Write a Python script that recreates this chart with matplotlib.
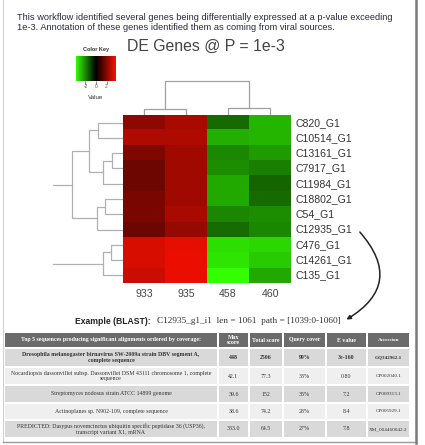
import numpy as np
import matplotlib
matplotlib.use("Agg")
import matplotlib.pyplot as plt
from matplotlib.colors import LinearSegmentedColormap
from matplotlib.patches import Rectangle, FancyArrowPatch
from matplotlib.lines import Line2D

# ---------------- data ----------------
samples = ["933", "935", "458", "460"]
genes = ["C820_G1", "C10514_G1", "C13161_G1", "C7917_G1", "C11984_G1",
         "C18802_G1", "C54_G1", "C12935_G1", "C476_G1", "C14261_G1", "C135_G1"]
expr = np.array([
    [2.1, 2.5, -1.6, -2.7],
    [2.6, 2.6, -2.6, -2.7],
    [1.9, 2.35, -2.0, -2.3],
    [1.6, 2.35, -2.1, -1.9],
    [1.6, 2.35, -2.5, -1.5],
    [1.8, 2.35, -2.5, -1.6],
    [1.8, 2.5, -2.0, -2.1],
    [1.6, 2.2, -1.6, -2.0],
    [3.2, 3.4, -3.3, -3.2],
    [3.2, 3.5, -3.4, -3.0],
    [3.0, 3.5, -3.8, -2.5],
])
key_range = 3.8
key_ticks = [-2, 0, 2]

# hierarchical merges: (left, right, height); new cluster ids follow the leaves
row_merges = [(0, 1, 25), (2, 3, 11), (12, 4, 20), (11, 13, 34), (5, 6, 18),
              (15, 7, 26), (14, 16, 51), (8, 9, 12), (18, 10, 20), (17, 19, 72)]
col_merges = [(0, 1, 6), (2, 3, 7), (4, 5, 34)]

blast_header = ["Top 5 sequences producing significant alignments ordered by coverage:",
                "Max\nscore", "Total score", "Query cover", "E value", "Accession"]
blast_desc = ["Drosophila melanogaster birnavirus SW-2009a strain DBV segment A,\ncomplete sequence",
              "Nocardiopsis dassonvillei subsp. Dassonvillei DSM 43111 chromosome 1, complete\nsequence",
              "Streptomyces nodosus strain ATCC 14899 genome",
              "Actinoplanes sp. N902-109, complete sequence",
              "PREDICTED: Dasypus novemcinctus ubiquitin specific peptidase 36 (USP36),\ntranscript variant X1, mRNA"]
blast_max = ["448", "42.1", "39.6", "38.6", "333.0"]
blast_total = ["2506", "77.3", "152", "74.2", "64.5"]
blast_cover = ["99%", "33%", "35%", "28%", "27%"]
blast_evalue = ["3e-160", "0.80", "7.2", "8.4", "7.8"]
blast_acc = ["GQ342962.1", "CP002040.1", "CP009313.1", "CP005929.1", "XM_004460042.2"]

# ---------------- figure ----------------
W, H = 425, 445
fig = plt.figure(figsize=(W / 100, H / 100), dpi=100)
fig.patch.set_facecolor("white")
SANS = "Liberation Sans"
SERIF = "Liberation Serif"


def px_axes(x0, y0, x1, y1):
    return fig.add_axes([x0 / W, 1 - y1 / H, (x1 - x0) / W, (y1 - y0) / H])


# canvas in pixel coordinates for text, table and frame
canvas = px_axes(0, 0, W, H)
canvas.set_xlim(0, W)
canvas.set_ylim(H, 0)
canvas.axis("off")

cmap = LinearSegmentedColormap.from_list("greenred", ["#33ff00", "#000000", "#ff1000"])

# heatmap
hm = px_axes(123, 115, 291, 283)
hm.imshow(expr, cmap=cmap, vmin=-key_range, vmax=key_range, aspect="auto",
          interpolation="nearest", extent=(0, len(samples), len(genes), 0))
hm.set_xlim(0, len(samples))
hm.set_ylim(len(genes), 0)
hm.set_xticks([])
hm.set_yticks([])
for s in hm.spines.values():
    s.set_visible(False)
for i, g in enumerate(genes):
    hm.text(len(samples) + 0.1, i + 0.5, g, ha="left", va="center",
            fontsize=7.6, family=SANS, color="#333333")
for j, s in enumerate(samples):
    hm.text(j + 0.5, len(genes) + 0.75, s, ha="center", va="center",
            fontsize=7.6, family=SANS, color="#444444")


def draw_dendrogram(ax, merges, n_leaves, orientation, color):
    pos = {i: i + 0.5 for i in range(n_leaves)}
    hgt = {i: 0.0 for i in range(n_leaves)}
    nid = n_leaves
    for a, b, h in merges:
        pa, pb = pos[a], pos[b]
        ha, hb = hgt[a], hgt[b]
        if orientation == "left":
            ax.plot([ha, h, h, hb], [pa, pa, pb, pb], color=color, lw=0.9,
                    solid_joinstyle="miter")
        else:
            ax.plot([pa, pa, pb, pb], [ha, h, h, hb], color=color, lw=0.9,
                    solid_joinstyle="miter")
        pos[nid] = (pa + pb) / 2
        hgt[nid] = h
        nid += 1


rd = px_axes(53, 115, 123, 283)
draw_dendrogram(rd, row_merges, len(genes), "left", "#b0b0b0")
rd.set_xlim(70, 0)
rd.set_ylim(len(genes), 0)
rd.axis("off")

cd = px_axes(123, 80, 291, 115)
draw_dendrogram(cd, col_merges, len(samples), "top", "#a0a0a0")
cd.set_xlim(0, len(samples))
cd.set_ylim(0, 35)
cd.axis("off")

# colour key
ck = px_axes(76, 56, 116, 81)
grad = np.linspace(-key_range, key_range, 256)[None, :]
ck.imshow(grad, cmap=cmap, vmin=-key_range, vmax=key_range, aspect="auto",
          extent=(-key_range, key_range, 0, 1))
ck.set_xlim(-key_range, key_range)
ck.set_yticks([])
ck.set_xticks(key_ticks)
ck.set_xticklabels([str(t) for t in key_ticks], fontsize=3.5, family=SANS, color="#333333")
ck.tick_params(axis="x", length=2, width=0.5, pad=0.5, colors="#555555")
for s in ck.spines.values():
    s.set_visible(False)
canvas.text(96, 49, "Color Key", ha="center", va="center", fontsize=4,
            family=SANS, weight="bold", color="#333333")
canvas.text(96, 97.5, "Value", ha="center", va="center", fontsize=4.5,
            family=SANS, color="#333333")

# intro text and title
canvas.text(17, 17, "This workflow identified several genes being differentially expressed at a p-value exceeding",
            ha="left", va="center", fontsize=6.65, family=SANS, color="#2a2a40")
canvas.text(17, 28, "1e-3. Annotation of these genes identified them as coming from viral sources.",
            ha="left", va="center", fontsize=6.65, family=SANS, color="#2a2a40")
canvas.text(206, 46, "DE Genes @ P = 1e-3", ha="center", va="center", fontsize=11.4,
            family=SANS, color="#444444")

# example line
canvas.text(75, 321, "Example (BLAST):", ha="left", va="center", fontsize=6.2,
            family=SANS, weight="bold", color="#222222")
canvas.text(157, 321, "C12935_g1_i1  len = 1061  path = [1039:0-1060]", ha="left",
            va="center", fontsize=6.65, family=SERIF, color="#333333")

arrow = FancyArrowPatch((358, 230), (344, 321), connectionstyle="arc3,rad=-0.62",
                        arrowstyle="-|>", mutation_scale=6, lw=1.1, color="#222222",
                        transform=canvas.transData)
canvas.add_patch(arrow)

# BLAST table
col_edges = [4, 218, 249, 283, 326, 367, 410]
row_edges = [332, 348, 367, 385, 403, 420, 438]
col_fontsize = [4.2, 4.2, 4.2, 4.2, 4.2, 3.7]
gap = 0.8
rows = [blast_header] + [
    [blast_desc[k], blast_max[k], blast_total[k], blast_cover[k], blast_evalue[k], blast_acc[k]]
    for k in range(len(blast_desc))]
for r, cells in enumerate(rows):
    y0, y1 = row_edges[r], row_edges[r + 1]
    if r == 0:
        fc, tc, wt = "#6b6b6b", "white", "bold"
    else:
        fc = "#d9d9d9" if r % 2 == 1 else "#efefef"
        tc = "#333333"
        wt = "bold" if r == 1 else "normal"
    for c, txt in enumerate(cells):
        x0, x1 = col_edges[c], col_edges[c + 1]
        canvas.add_patch(Rectangle((x0 + gap, y0 + gap), x1 - x0 - 2 * gap, y1 - y0 - 2 * gap,
                                   facecolor=fc, edgecolor="none"))
        canvas.text((x0 + x1) / 2, (y0 + y1) / 2, txt, ha="center", va="center",
                    fontsize=col_fontsize[c], family=SERIF, color=tc, weight=wt,
                    linespacing=1.15)

# page frame
canvas.add_line(Line2D([3, 3], [0, 442], color="#d0d0d0", lw=0.8))
canvas.add_line(Line2D([3, 416], [442, 442], color="#9a9a9a", lw=1.0))
canvas.add_line(Line2D([416, 416], [0, 443], color="#7a7a7a", lw=1.8))

fig.savefig("out.png", dpi=100, facecolor="white")
